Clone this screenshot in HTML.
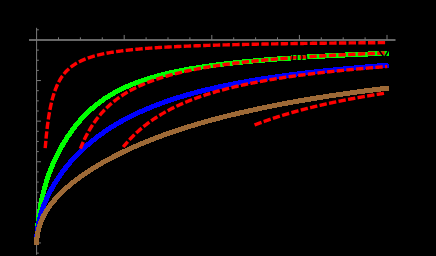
<!DOCTYPE html>
<html><head><meta charset="utf-8"><title>plot</title>
<style>
html,body{margin:0;padding:0;background:#000;width:436px;height:256px;overflow:hidden;font-family:"Liberation Sans",sans-serif;}
</style></head><body>
<svg width="436" height="256" viewBox="0 0 436 256" style="position:absolute;left:0;top:0">
<rect width="436" height="256" fill="#000"/>
<g stroke="#7a7a7a" stroke-width="1" fill="none">
<path d="M29 40 H395.5" stroke="#8a8a8a" stroke-width="1.6"/>
<path d="M36.60 27.8 V254.8"/>
<path d="M58.50 39.95 v-2.6 M80.40 39.95 v-2.6 M102.30 39.95 v-2.6 M124.20 39.95 v-5.0 M146.10 39.95 v-2.6 M168.00 39.95 v-2.6 M189.90 39.95 v-2.6 M211.80 39.95 v-5.0 M233.70 39.95 v-2.6 M255.60 39.95 v-2.6 M277.50 39.95 v-2.6 M299.40 39.95 v-5.0 M321.30 39.95 v-2.6 M343.20 39.95 v-2.6 M365.10 39.95 v-2.6 M387.00 39.95 v-5.0 M36.60 29.80 h2.2 M36.60 50.10 h2.2 M36.60 60.25 h2.2 M36.60 70.40 h2.2 M36.60 80.55 h4.3 M36.60 90.70 h2.2 M36.60 100.85 h2.2 M36.60 111.00 h2.2 M36.60 121.15 h4.3 M36.60 131.30 h2.2 M36.60 141.45 h2.2 M36.60 151.60 h2.2 M36.60 161.75 h4.3 M36.60 171.90 h2.2 M36.60 182.05 h2.2 M36.60 192.20 h2.2 M36.60 202.35 h4.3 M36.60 212.50 h2.2 M36.60 222.65 h2.2 M36.60 232.80 h2.2 M36.60 242.95 h4.3 M36.60 253.10 h2.2"/>
</g>
<g fill="none" stroke-linejoin="round" shape-rendering="crispEdges">
<path d="M36.60 243.79 L36.60 243.30 L36.61 242.81 L36.61 242.29 L36.62 241.77 L36.64 241.23 L36.65 240.67 L36.67 240.10 L36.69 239.52 L36.71 238.93 L36.74 238.33 L36.77 237.71 L36.80 237.08 L36.84 236.44 L36.88 235.79 L36.92 235.13 L36.96 234.46 L37.01 233.79 L37.06 233.10 L37.11 232.40 L37.17 231.69 L37.22 230.98 L37.28 230.26 L37.35 229.53 L37.41 228.79 L37.48 228.05 L37.56 227.30 L37.63 226.55 L37.71 225.78 L37.79 225.02 L37.87 224.25 L37.96 223.47 L38.05 222.69 L38.14 221.90 L38.23 221.11 L38.33 220.32 L38.43 219.52 L38.54 218.73 L38.64 217.92 L38.75 217.12 L38.86 216.31 L38.98 215.50 L39.09 214.69 L39.21 213.88 L39.34 213.06 L39.46 212.25 L39.59 211.43 L39.72 210.61 L39.86 209.80 L39.99 208.98 L40.13 208.16 L40.28 207.34 L40.42 206.53 L40.57 205.71 L40.72 204.89 L40.88 204.07 L41.03 203.26 L41.19 202.44 L41.36 201.63 L41.52 200.82 L41.69 200.00 L41.86 199.19 L42.03 198.39 L42.21 197.58 L42.39 196.77 L42.57 195.97 L42.76 195.17 L42.95 194.37 L43.14 193.57 L43.33 192.78 L43.53 191.98 L43.73 191.19 L43.93 190.40 L44.13 189.62 L44.34 188.83 L44.55 188.05 L44.77 187.27 L44.98 186.49 L45.20 185.72 L45.42 184.94 L45.65 184.17 L45.87 183.41 L46.11 182.64 L46.34 181.88 L46.57 181.12 L46.81 180.36 L47.06 179.61 L47.30 178.86 L47.55 178.11 L47.80 177.36 L48.05 176.61 L48.31 175.87 L48.57 175.13 L48.83 174.39 L49.09 173.66 L49.36 172.93 L49.63 172.20 L49.90 171.47 L50.18 170.74 L50.46 170.02 L50.74 169.30 L51.02 168.58 L51.31 167.86 L51.60 167.15 L51.89 166.43 L52.19 165.72 L52.48 165.02 L52.78 164.31 L53.09 163.61 L53.40 162.90 L53.71 162.20 L54.02 161.50 L54.33 160.81 L54.65 160.11 L54.97 159.42 L55.30 158.73 L55.62 158.04 L55.95 157.35 L56.28 156.67 L56.62 155.99 L56.96 155.30 L57.30 154.62 L57.64 153.94 L57.99 153.27 L58.34 152.59 L58.69 151.92 L59.04 151.25 L59.40 150.58 L59.76 149.91 L60.12 149.24 L60.49 148.58 L60.86 147.91 L61.23 147.25 L61.61 146.59 L61.98 145.93 L62.36 145.28 L62.75 144.62 L63.13 143.97 L63.52 143.32 L63.91 142.67 L64.31 142.02 L64.70 141.37 L65.10 140.73 L65.51 140.09 L65.91 139.45 L66.32 138.81 L66.73 138.17 L67.15 137.54 L67.56 136.90 L67.98 136.27 L68.41 135.64 L68.83 135.02 L69.26 134.39 L69.69 133.77 L70.13 133.15 L70.56 132.53 L71.00 131.91 L71.45 131.30 L71.89 130.69 L72.34 130.08 L72.79 129.47 L73.24 128.87 L73.70 128.26 L74.16 127.67 L74.62 127.07 L75.09 126.47 L75.55 125.88 L76.03 125.29 L76.50 124.70 L76.98 124.12 L77.45 123.54 L77.94 122.96 L78.42 122.38 L78.91 121.81 L79.40 121.24 L79.89 120.67 L80.39 120.11 L80.89 119.55 L81.39 118.99 L81.89 118.43 L82.40 117.88 L82.91 117.33 L83.43 116.79 L83.94 116.24 L84.46 115.70 L84.98 115.17 L85.51 114.63 L86.03 114.10 L86.56 113.58 L87.10 113.05 L87.63 112.53 L88.17 112.01 L88.71 111.50 L89.26 110.99 L89.80 110.48 L90.35 109.98 L90.91 109.48 L91.46 108.98 L92.02 108.49 L92.58 108.00 L93.15 107.51 L93.71 107.02 L94.28 106.54 L94.86 106.07 L95.43 105.59 L96.01 105.13 L96.59 104.66 L97.17 104.20 L97.76 103.74 L98.35 103.28 L98.94 102.83 L99.54 102.38 L100.14 101.93 L100.74 101.49 L101.34 101.05 L101.95 100.62 L102.56 100.18 L103.17 99.76 L103.78 99.33 L104.40 98.91 L105.02 98.49 L105.64 98.07 L106.27 97.66 L106.90 97.25 L107.53 96.85 L108.17 96.45 L108.80 96.05 L109.44 95.65 L110.09 95.26 L110.73 94.87 L111.38 94.49 L112.03 94.11 L112.69 93.73 L113.35 93.35 L114.01 92.98 L114.67 92.61 L115.33 92.24 L116.00 91.88 L116.67 91.52 L117.35 91.16 L118.03 90.81 L118.71 90.46 L119.39 90.11 L120.07 89.77 L120.76 89.42 L121.45 89.09 L122.15 88.75 L122.85 88.42 L123.55 88.09 L124.25 87.76 L124.95 87.43 L125.66 87.11 L126.37 86.79 L127.09 86.48 L127.80 86.17 L128.52 85.86 L129.24 85.55 L129.97 85.24 L130.70 84.94 L131.43 84.64 L132.16 84.34 L132.90 84.05 L133.64 83.76 L134.38 83.47 L135.13 83.18 L135.87 82.90 L136.62 82.62 L137.38 82.34 L138.13 82.06 L138.89 81.79 L139.66 81.52 L140.42 81.25 L141.19 80.98 L141.96 80.71 L142.73 80.45 L143.51 80.19 L144.29 79.93 L145.07 79.68 L145.85 79.43 L146.64 79.18 L147.43 78.93 L148.22 78.68 L149.02 78.44 L149.82 78.19 L150.62 77.95 L151.42 77.72 L152.23 77.48 L153.04 77.25 L153.85 77.01 L154.67 76.78 L155.49 76.56 L156.31 76.33 L157.13 76.11 L157.96 75.88 L158.79 75.66 L159.62 75.45 L160.46 75.23 L161.30 75.02 L162.14 74.80 L162.98 74.59 L163.83 74.38 L164.68 74.18 L165.53 73.97 L166.39 73.77 L167.24 73.56 L168.10 73.36 L168.97 73.17 L169.83 72.97 L170.70 72.77 L171.58 72.58 L172.45 72.39 L173.33 72.20 L174.21 72.01 L175.09 71.82 L175.98 71.64 L176.87 71.45 L177.76 71.27 L178.66 71.09 L179.55 70.91 L180.45 70.73 L181.36 70.56 L182.26 70.38 L183.17 70.21 L184.08 70.04 L185.00 69.87 L185.92 69.70 L186.84 69.53 L187.76 69.36 L188.69 69.20 L189.61 69.03 L190.55 68.87 L191.48 68.71 L192.42 68.55 L193.36 68.39 L194.30 68.24 L195.25 68.08 L196.20 67.93 L197.15 67.77 L198.10 67.62 L199.06 67.47 L200.02 67.32 L200.98 67.17 L201.95 67.02 L202.91 66.88 L203.89 66.73 L204.86 66.59 L205.84 66.45 L206.82 66.30 L207.80 66.16 L208.78 66.02 L209.77 65.89 L210.76 65.75 L211.76 65.61 L212.75 65.48 L213.75 65.34 L214.76 65.21 L215.76 65.08 L216.77 64.95 L217.78 64.82 L218.79 64.69 L219.81 64.56 L220.83 64.43 L221.85 64.31 L222.88 64.18 L223.90 64.06 L224.93 63.93 L225.97 63.81 L227.00 63.69 L228.04 63.57 L229.08 63.45 L230.13 63.33 L231.18 63.21 L232.23 63.10 L233.28 62.98 L234.34 62.87 L235.39 62.75 L236.46 62.64 L237.52 62.53 L238.59 62.41 L239.66 62.30 L240.73 62.19 L241.81 62.08 L242.89 61.98 L243.97 61.87 L245.05 61.76 L246.14 61.65 L247.23 61.55 L248.32 61.44 L249.42 61.34 L250.51 61.24 L251.62 61.13 L252.72 61.03 L253.83 60.93 L254.94 60.83 L256.05 60.73 L257.16 60.63 L258.28 60.54 L259.40 60.44 L260.53 60.34 L261.65 60.25 L262.78 60.15 L263.92 60.06 L265.05 59.96 L266.19 59.87 L267.33 59.78 L268.47 59.68 L269.62 59.59 L270.77 59.50 L271.92 59.41 L273.08 59.32 L274.23 59.23 L275.39 59.14 L276.56 59.06 L277.72 58.97 L278.89 58.88 L280.07 58.80 L281.24 58.71 L282.42 58.63 L283.60 58.54 L284.78 58.46 L285.97 58.37 L287.16 58.29 L288.35 58.21 L289.54 58.13 L290.74 58.05 L291.94 57.97 L293.14 57.89 L294.35 57.81 L295.56 57.73 L296.77 57.65 L297.98 57.57 L299.20 57.50 L300.42 57.42 L301.64 57.34 L302.87 57.27 L304.10 57.19 L305.33 57.12 L306.56 57.04 L307.80 56.97 L309.04 56.90 L310.28 56.82 L311.53 56.75 L312.78 56.68 L314.03 56.61 L315.28 56.54 L316.54 56.47 L317.80 56.40 L319.06 56.33 L320.32 56.26 L321.59 56.19 L322.86 56.12 L324.14 56.05 L325.41 55.98 L326.69 55.92 L327.98 55.85 L329.26 55.78 L330.55 55.72 L331.84 55.65 L333.13 55.59 L334.43 55.52 L335.73 55.46 L337.03 55.40 L338.33 55.33 L339.64 55.27 L340.95 55.21 L342.27 55.14 L343.58 55.08 L344.90 55.02 L346.22 54.96 L347.55 54.90 L348.88 54.84 L350.21 54.78 L351.54 54.72 L352.87 54.66 L354.21 54.60 L355.55 54.54 L356.90 54.48 L358.25 54.43 L359.60 54.37 L360.95 54.31 L362.30 54.26 L363.66 54.20 L365.02 54.14 L366.39 54.09 L367.76 54.03 L369.13 53.98 L370.50 53.92 L371.87 53.87 L373.25 53.81 L374.63 53.76 L376.02 53.70 L377.40 53.65 L378.79 53.60 L380.19 53.55 L381.58 53.49 L382.98 53.44 L384.38 53.39 L385.78 53.34 L387.19 53.29 L388.60 53.24" stroke="#00ff00" stroke-width="5"/>
<path d="M36.60 244.01 L36.60 243.43 L36.61 242.84 L36.61 242.26 L36.62 241.68 L36.64 241.10 L36.65 240.53 L36.67 239.96 L36.69 239.39 L36.71 238.82 L36.74 238.25 L36.77 237.69 L36.80 237.12 L36.84 236.56 L36.88 236.01 L36.92 235.45 L36.96 234.89 L37.01 234.34 L37.06 233.79 L37.11 233.24 L37.17 232.69 L37.22 232.14 L37.28 231.59 L37.35 231.05 L37.41 230.50 L37.48 229.96 L37.56 229.42 L37.63 228.88 L37.71 228.34 L37.79 227.80 L37.87 227.26 L37.96 226.73 L38.05 226.19 L38.14 225.66 L38.23 225.12 L38.33 224.59 L38.43 224.06 L38.54 223.52 L38.64 222.99 L38.75 222.46 L38.86 221.93 L38.98 221.40 L39.09 220.87 L39.21 220.34 L39.34 219.81 L39.46 219.28 L39.59 218.76 L39.72 218.23 L39.86 217.70 L39.99 217.18 L40.13 216.65 L40.28 216.12 L40.42 215.60 L40.57 215.07 L40.72 214.54 L40.88 214.02 L41.03 213.49 L41.19 212.97 L41.36 212.44 L41.52 211.92 L41.69 211.39 L41.86 210.87 L42.03 210.34 L42.21 209.82 L42.39 209.30 L42.57 208.77 L42.76 208.25 L42.95 207.72 L43.14 207.20 L43.33 206.67 L43.53 206.15 L43.73 205.62 L43.93 205.10 L44.13 204.58 L44.34 204.05 L44.55 203.53 L44.77 203.00 L44.98 202.48 L45.20 201.95 L45.42 201.43 L45.65 200.90 L45.87 200.38 L46.11 199.85 L46.34 199.33 L46.57 198.80 L46.81 198.28 L47.06 197.75 L47.30 197.23 L47.55 196.70 L47.80 196.18 L48.05 195.65 L48.31 195.13 L48.57 194.60 L48.83 194.07 L49.09 193.55 L49.36 193.02 L49.63 192.50 L49.90 191.97 L50.18 191.45 L50.46 190.92 L50.74 190.40 L51.02 189.87 L51.31 189.35 L51.60 188.82 L51.89 188.30 L52.19 187.77 L52.48 187.25 L52.78 186.72 L53.09 186.20 L53.40 185.67 L53.71 185.15 L54.02 184.62 L54.33 184.10 L54.65 183.58 L54.97 183.05 L55.30 182.53 L55.62 182.00 L55.95 181.48 L56.28 180.96 L56.62 180.44 L56.96 179.91 L57.30 179.39 L57.64 178.87 L57.99 178.35 L58.34 177.83 L58.69 177.30 L59.04 176.78 L59.40 176.26 L59.76 175.74 L60.12 175.22 L60.49 174.70 L60.86 174.19 L61.23 173.67 L61.61 173.15 L61.98 172.63 L62.36 172.11 L62.75 171.60 L63.13 171.08 L63.52 170.57 L63.91 170.05 L64.31 169.54 L64.70 169.02 L65.10 168.51 L65.51 168.00 L65.91 167.49 L66.32 166.97 L66.73 166.46 L67.15 165.95 L67.56 165.44 L67.98 164.93 L68.41 164.43 L68.83 163.92 L69.26 163.41 L69.69 162.91 L70.13 162.40 L70.56 161.90 L71.00 161.39 L71.45 160.89 L71.89 160.39 L72.34 159.89 L72.79 159.39 L73.24 158.89 L73.70 158.39 L74.16 157.89 L74.62 157.40 L75.09 156.90 L75.55 156.41 L76.03 155.91 L76.50 155.42 L76.98 154.93 L77.45 154.44 L77.94 153.95 L78.42 153.46 L78.91 152.97 L79.40 152.48 L79.89 152.00 L80.39 151.51 L80.89 151.03 L81.39 150.55 L81.89 150.07 L82.40 149.59 L82.91 149.11 L83.43 148.63 L83.94 148.15 L84.46 147.68 L84.98 147.20 L85.51 146.73 L86.03 146.26 L86.56 145.79 L87.10 145.32 L87.63 144.85 L88.17 144.38 L88.71 143.92 L89.26 143.45 L89.80 142.99 L90.35 142.53 L90.91 142.07 L91.46 141.61 L92.02 141.15 L92.58 140.69 L93.15 140.24 L93.71 139.78 L94.28 139.33 L94.86 138.88 L95.43 138.43 L96.01 137.98 L96.59 137.54 L97.17 137.09 L97.76 136.65 L98.35 136.20 L98.94 135.76 L99.54 135.32 L100.14 134.88 L100.74 134.45 L101.34 134.01 L101.95 133.58 L102.56 133.14 L103.17 132.71 L103.78 132.28 L104.40 131.86 L105.02 131.43 L105.64 131.00 L106.27 130.58 L106.90 130.16 L107.53 129.74 L108.17 129.32 L108.80 128.90 L109.44 128.49 L110.09 128.07 L110.73 127.66 L111.38 127.25 L112.03 126.84 L112.69 126.43 L113.35 126.02 L114.01 125.62 L114.67 125.21 L115.33 124.81 L116.00 124.41 L116.67 124.01 L117.35 123.61 L118.03 123.22 L118.71 122.82 L119.39 122.43 L120.07 122.04 L120.76 121.65 L121.45 121.26 L122.15 120.88 L122.85 120.49 L123.55 120.11 L124.25 119.73 L124.95 119.35 L125.66 118.97 L126.37 118.59 L127.09 118.22 L127.80 117.84 L128.52 117.47 L129.24 117.10 L129.97 116.73 L130.70 116.36 L131.43 116.00 L132.16 115.63 L132.90 115.27 L133.64 114.91 L134.38 114.55 L135.13 114.19 L135.87 113.84 L136.62 113.48 L137.38 113.13 L138.13 112.78 L138.89 112.43 L139.66 112.08 L140.42 111.73 L141.19 111.39 L141.96 111.04 L142.73 110.70 L143.51 110.36 L144.29 110.02 L145.07 109.68 L145.85 109.35 L146.64 109.01 L147.43 108.68 L148.22 108.35 L149.02 108.02 L149.82 107.69 L150.62 107.37 L151.42 107.04 L152.23 106.72 L153.04 106.40 L153.85 106.08 L154.67 105.76 L155.49 105.44 L156.31 105.12 L157.13 104.81 L157.96 104.50 L158.79 104.19 L159.62 103.88 L160.46 103.57 L161.30 103.26 L162.14 102.96 L162.98 102.65 L163.83 102.35 L164.68 102.05 L165.53 101.75 L166.39 101.45 L167.24 101.16 L168.10 100.86 L168.97 100.57 L169.83 100.28 L170.70 99.99 L171.58 99.70 L172.45 99.41 L173.33 99.12 L174.21 98.84 L175.09 98.56 L175.98 98.27 L176.87 97.99 L177.76 97.72 L178.66 97.44 L179.55 97.16 L180.45 96.89 L181.36 96.61 L182.26 96.34 L183.17 96.07 L184.08 95.80 L185.00 95.53 L185.92 95.27 L186.84 95.00 L187.76 94.74 L188.69 94.48 L189.61 94.22 L190.55 93.96 L191.48 93.70 L192.42 93.44 L193.36 93.19 L194.30 92.93 L195.25 92.68 L196.20 92.43 L197.15 92.18 L198.10 91.93 L199.06 91.68 L200.02 91.43 L200.98 91.19 L201.95 90.94 L202.91 90.70 L203.89 90.46 L204.86 90.22 L205.84 89.98 L206.82 89.74 L207.80 89.51 L208.78 89.27 L209.77 89.04 L210.76 88.81 L211.76 88.58 L212.75 88.35 L213.75 88.12 L214.76 87.89 L215.76 87.66 L216.77 87.44 L217.78 87.21 L218.79 86.99 L219.81 86.77 L220.83 86.55 L221.85 86.33 L222.88 86.11 L223.90 85.90 L224.93 85.68 L225.97 85.47 L227.00 85.25 L228.04 85.04 L229.08 84.83 L230.13 84.62 L231.18 84.41 L232.23 84.20 L233.28 84.00 L234.34 83.79 L235.39 83.59 L236.46 83.38 L237.52 83.18 L238.59 82.98 L239.66 82.78 L240.73 82.58 L241.81 82.38 L242.89 82.18 L243.97 81.99 L245.05 81.79 L246.14 81.60 L247.23 81.41 L248.32 81.22 L249.42 81.03 L250.51 80.84 L251.62 80.65 L252.72 80.46 L253.83 80.27 L254.94 80.09 L256.05 79.90 L257.16 79.72 L258.28 79.54 L259.40 79.36 L260.53 79.18 L261.65 79.00 L262.78 78.82 L263.92 78.64 L265.05 78.46 L266.19 78.29 L267.33 78.11 L268.47 77.94 L269.62 77.77 L270.77 77.59 L271.92 77.42 L273.08 77.25 L274.23 77.08 L275.39 76.92 L276.56 76.75 L277.72 76.58 L278.89 76.42 L280.07 76.25 L281.24 76.09 L282.42 75.93 L283.60 75.76 L284.78 75.60 L285.97 75.44 L287.16 75.28 L288.35 75.13 L289.54 74.97 L290.74 74.81 L291.94 74.65 L293.14 74.50 L294.35 74.35 L295.56 74.19 L296.77 74.04 L297.98 73.89 L299.20 73.74 L300.42 73.59 L301.64 73.44 L302.87 73.29 L304.10 73.14 L305.33 72.99 L306.56 72.85 L307.80 72.70 L309.04 72.56 L310.28 72.42 L311.53 72.27 L312.78 72.13 L314.03 71.99 L315.28 71.85 L316.54 71.71 L317.80 71.57 L319.06 71.43 L320.32 71.29 L321.59 71.16 L322.86 71.02 L324.14 70.88 L325.41 70.75 L326.69 70.62 L327.98 70.48 L329.26 70.35 L330.55 70.22 L331.84 70.09 L333.13 69.96 L334.43 69.83 L335.73 69.70 L337.03 69.57 L338.33 69.44 L339.64 69.31 L340.95 69.19 L342.27 69.06 L343.58 68.94 L344.90 68.81 L346.22 68.69 L347.55 68.57 L348.88 68.44 L350.21 68.32 L351.54 68.20 L352.87 68.08 L354.21 67.96 L355.55 67.84 L356.90 67.72 L358.25 67.61 L359.60 67.49 L360.95 67.37 L362.30 67.26 L363.66 67.14 L365.02 67.03 L366.39 66.91 L367.76 66.80 L369.13 66.69 L370.50 66.57 L371.87 66.46 L373.25 66.35 L374.63 66.24 L376.02 66.13 L377.40 66.02 L378.79 65.91 L380.19 65.80 L381.58 65.70 L382.98 65.59 L384.38 65.48 L385.78 65.38 L387.19 65.27 L388.60 65.17" stroke="#0000ff" stroke-width="5"/>
<path d="M36.60 244.94 L36.60 244.48 L36.61 244.02 L36.61 243.57 L36.62 243.11 L36.64 242.66 L36.65 242.21 L36.67 241.77 L36.69 241.32 L36.71 240.88 L36.74 240.43 L36.77 239.99 L36.80 239.55 L36.84 239.12 L36.88 238.68 L36.92 238.24 L36.96 237.81 L37.01 237.38 L37.06 236.95 L37.11 236.52 L37.17 236.09 L37.22 235.67 L37.28 235.24 L37.35 234.82 L37.42 234.39 L37.48 233.97 L37.56 233.55 L37.63 233.13 L37.71 232.72 L37.79 232.30 L37.87 231.88 L37.96 231.47 L38.05 231.06 L38.14 230.64 L38.24 230.23 L38.33 229.82 L38.43 229.41 L38.54 229.01 L38.64 228.60 L38.75 228.19 L38.86 227.79 L38.98 227.38 L39.10 226.98 L39.22 226.58 L39.34 226.18 L39.47 225.78 L39.59 225.38 L39.73 224.98 L39.86 224.58 L40.00 224.18 L40.14 223.79 L40.28 223.39 L40.43 222.99 L40.58 222.60 L40.73 222.21 L40.88 221.81 L41.04 221.42 L41.20 221.03 L41.36 220.64 L41.53 220.25 L41.69 219.86 L41.87 219.47 L42.04 219.08 L42.22 218.69 L42.40 218.30 L42.58 217.92 L42.76 217.53 L42.95 217.15 L43.14 216.76 L43.34 216.38 L43.53 215.99 L43.73 215.61 L43.94 215.22 L44.14 214.84 L44.35 214.46 L44.56 214.08 L44.77 213.70 L44.99 213.31 L45.21 212.93 L45.43 212.55 L45.66 212.17 L45.89 211.79 L46.12 211.42 L46.35 211.04 L46.59 210.66 L46.83 210.28 L47.07 209.90 L47.31 209.53 L47.56 209.15 L47.81 208.77 L48.06 208.40 L48.32 208.02 L48.58 207.65 L48.84 207.27 L49.11 206.90 L49.37 206.52 L49.64 206.15 L49.92 205.77 L50.19 205.40 L50.47 205.03 L50.75 204.65 L51.04 204.28 L51.32 203.91 L51.61 203.53 L51.91 203.16 L52.20 202.79 L52.50 202.42 L52.80 202.05 L53.11 201.68 L53.41 201.30 L53.72 200.93 L54.04 200.56 L54.35 200.19 L54.67 199.82 L54.99 199.45 L55.32 199.08 L55.64 198.71 L55.97 198.34 L56.31 197.97 L56.64 197.60 L56.98 197.24 L57.32 196.87 L57.66 196.50 L58.01 196.13 L58.36 195.76 L58.71 195.39 L59.07 195.03 L59.43 194.66 L59.79 194.29 L60.15 193.92 L60.52 193.56 L60.89 193.19 L61.26 192.82 L61.63 192.46 L62.01 192.09 L62.39 191.72 L62.78 191.36 L63.16 190.99 L63.55 190.63 L63.94 190.26 L64.34 189.89 L64.74 189.53 L65.14 189.16 L65.54 188.80 L65.95 188.43 L66.36 188.07 L66.77 187.70 L67.18 187.34 L67.60 186.98 L68.02 186.61 L68.44 186.25 L68.87 185.88 L69.30 185.52 L69.73 185.16 L70.16 184.79 L70.60 184.43 L71.04 184.07 L71.48 183.70 L71.93 183.34 L72.38 182.98 L72.83 182.62 L73.28 182.25 L73.74 181.89 L74.20 181.53 L74.66 181.17 L75.13 180.81 L75.60 180.45 L76.07 180.09 L76.54 179.73 L77.02 179.36 L77.50 179.00 L77.98 178.64 L78.47 178.28 L78.96 177.92 L79.45 177.56 L79.94 177.20 L80.44 176.85 L80.94 176.49 L81.44 176.13 L81.95 175.77 L82.45 175.41 L82.97 175.05 L83.48 174.69 L84.00 174.34 L84.51 173.98 L85.04 173.62 L85.56 173.26 L86.09 172.91 L86.62 172.55 L87.15 172.19 L87.69 171.84 L88.23 171.48 L88.77 171.13 L89.32 170.77 L89.86 170.42 L90.42 170.06 L90.97 169.71 L91.52 169.35 L92.08 169.00 L92.65 168.64 L93.21 168.29 L93.78 167.94 L94.35 167.58 L94.92 167.23 L95.50 166.88 L96.08 166.53 L96.66 166.18 L97.24 165.82 L97.83 165.47 L98.42 165.12 L99.01 164.77 L99.61 164.42 L100.21 164.07 L100.81 163.72 L101.41 163.37 L102.02 163.02 L102.63 162.68 L103.24 162.33 L103.86 161.98 L104.48 161.63 L105.10 161.28 L105.72 160.94 L106.35 160.59 L106.98 160.24 L107.61 159.90 L108.25 159.55 L108.89 159.21 L109.53 158.86 L110.17 158.52 L110.82 158.18 L111.47 157.83 L112.12 157.49 L112.77 157.15 L113.43 156.80 L114.09 156.46 L114.76 156.12 L115.42 155.78 L116.09 155.44 L116.77 155.10 L117.44 154.76 L118.12 154.42 L118.80 154.08 L119.48 153.74 L120.17 153.41 L120.86 153.07 L121.55 152.73 L122.25 152.39 L122.94 152.06 L123.64 151.72 L124.35 151.39 L125.05 151.05 L125.76 150.72 L126.47 150.38 L127.19 150.05 L127.91 149.72 L128.63 149.39 L129.35 149.05 L130.08 148.72 L130.81 148.39 L131.54 148.06 L132.27 147.73 L133.01 147.40 L133.75 147.07 L134.49 146.74 L135.24 146.42 L135.99 146.09 L136.74 145.76 L137.49 145.44 L138.25 145.11 L139.01 144.79 L139.77 144.46 L140.54 144.14 L141.31 143.81 L142.08 143.49 L142.85 143.17 L143.63 142.85 L144.41 142.52 L145.19 142.20 L145.98 141.88 L146.76 141.56 L147.56 141.24 L148.35 140.93 L149.15 140.61 L149.95 140.29 L150.75 139.97 L151.55 139.66 L152.36 139.34 L153.17 139.03 L153.99 138.71 L154.80 138.40 L155.62 138.09 L156.45 137.77 L157.27 137.46 L158.10 137.15 L158.93 136.84 L159.76 136.53 L160.60 136.22 L161.44 135.91 L162.28 135.60 L163.13 135.30 L163.97 134.99 L164.82 134.68 L165.68 134.38 L166.53 134.07 L167.39 133.77 L168.25 133.47 L169.12 133.16 L169.99 132.86 L170.86 132.56 L171.73 132.26 L172.61 131.96 L173.48 131.66 L174.37 131.36 L175.25 131.06 L176.14 130.76 L177.03 130.47 L177.92 130.17 L178.82 129.87 L179.72 129.58 L180.62 129.28 L181.52 128.99 L182.43 128.70 L183.34 128.40 L184.25 128.11 L185.17 127.82 L186.09 127.53 L187.01 127.24 L187.93 126.95 L188.86 126.67 L189.79 126.38 L190.72 126.09 L191.66 125.81 L192.60 125.52 L193.54 125.24 L194.48 124.95 L195.43 124.67 L196.38 124.39 L197.33 124.10 L198.28 123.82 L199.24 123.54 L200.20 123.26 L201.17 122.98 L202.13 122.71 L203.10 122.43 L204.08 122.15 L205.05 121.87 L206.03 121.60 L207.01 121.32 L207.99 121.05 L208.98 120.78 L209.97 120.50 L210.96 120.23 L211.96 119.96 L212.95 119.69 L213.95 119.42 L214.96 119.15 L215.96 118.88 L216.97 118.62 L217.98 118.35 L219.00 118.08 L220.02 117.82 L221.04 117.55 L222.06 117.29 L223.09 117.03 L224.12 116.77 L225.15 116.50 L226.18 116.24 L227.22 115.98 L228.26 115.72 L229.30 115.47 L230.35 115.21 L231.40 114.95 L232.45 114.69 L233.50 114.44 L234.56 114.18 L235.62 113.93 L236.68 113.68 L237.75 113.42 L238.82 113.17 L239.89 112.92 L240.96 112.67 L242.04 112.42 L243.12 112.17 L244.20 111.92 L245.29 111.67 L246.38 111.43 L247.47 111.18 L248.56 110.94 L249.66 110.69 L250.76 110.45 L251.86 110.20 L252.97 109.96 L254.07 109.72 L255.18 109.48 L256.30 109.24 L257.42 109.00 L258.53 108.76 L259.66 108.52 L260.78 108.29 L261.91 108.05 L263.04 107.81 L264.17 107.58 L265.31 107.34 L266.45 107.11 L267.59 106.88 L268.74 106.65 L269.89 106.41 L271.04 106.18 L272.19 105.95 L273.35 105.73 L274.50 105.50 L275.67 105.27 L276.83 105.04 L278.00 104.82 L279.17 104.59 L280.34 104.37 L281.52 104.14 L282.70 103.92 L283.88 103.70 L285.06 103.47 L286.25 103.25 L287.44 103.03 L288.63 102.81 L289.83 102.59 L291.03 102.38 L292.23 102.16 L293.43 101.94 L294.64 101.72 L295.85 101.51 L297.07 101.29 L298.28 101.08 L299.50 100.87 L300.72 100.65 L301.94 100.44 L303.17 100.23 L304.40 100.02 L305.63 99.81 L306.87 99.60 L308.11 99.39 L309.35 99.19 L310.59 98.98 L311.84 98.77 L313.09 98.57 L314.34 98.36 L315.60 98.16 L316.86 97.96 L318.12 97.75 L319.38 97.55 L320.65 97.35 L321.92 97.15 L323.19 96.95 L324.46 96.75 L325.74 96.55 L327.02 96.35 L328.31 96.16 L329.59 95.96 L330.88 95.76 L332.17 95.57 L333.47 95.37 L334.77 95.18 L336.07 94.99 L337.37 94.80 L338.68 94.60 L339.99 94.41 L341.30 94.22 L342.61 94.03 L343.93 93.84 L345.25 93.66 L346.57 93.47 L347.90 93.28 L349.23 93.09 L350.56 92.91 L351.90 92.72 L353.23 92.54 L354.57 92.36 L355.92 92.17 L357.26 91.99 L358.61 91.81 L359.96 91.63 L361.32 91.45 L362.67 91.27 L364.03 91.09 L365.40 90.91 L366.76 90.73 L368.13 90.55 L369.50 90.38 L370.88 90.20 L372.25 90.03 L373.63 89.85 L375.02 89.68 L376.40 89.50 L377.79 89.33 L379.18 89.16 L380.58 88.99 L381.97 88.82 L383.37 88.65 L384.78 88.48 L386.18 88.31 L387.59 88.14 L389.00 87.97" stroke="#9d6936" stroke-width="5"/>
</g>
<g fill="none" stroke-linejoin="round">
<path d="M385.10 42.62 L383.96 42.63 L382.83 42.64 L381.69 42.64 L380.55 42.65 L379.42 42.66 L378.28 42.67 L377.14 42.68 L376.01 42.69 L374.87 42.70 L373.73 42.71 L372.60 42.72 L371.46 42.73 L370.32 42.74 L369.18 42.75 L368.05 42.76 L366.91 42.77 L365.77 42.78 L364.64 42.79 L363.50 42.79 L362.36 42.80 L361.23 42.81 L360.09 42.82 L358.95 42.84 L357.82 42.85 L356.68 42.86 L355.54 42.87 L354.41 42.88 L353.27 42.89 L352.13 42.90 L351.00 42.91 L349.86 42.92 L348.72 42.93 L347.59 42.94 L346.45 42.95 L345.31 42.96 L344.18 42.97 L343.04 42.98 L341.90 43.00 L340.77 43.01 L339.63 43.02 L338.49 43.03 L337.35 43.04 L336.22 43.05 L335.08 43.07 L333.94 43.08 L332.81 43.09 L331.67 43.10 L330.53 43.11 L329.40 43.13 L328.26 43.14 L327.12 43.15 L325.99 43.16 L324.85 43.18 L323.71 43.19 L322.58 43.20 L321.44 43.21 L320.30 43.23 L319.17 43.24 L318.03 43.25 L316.89 43.27 L315.76 43.28 L314.62 43.30 L313.48 43.31 L312.35 43.32 L311.21 43.34 L310.07 43.35 L308.94 43.36 L307.80 43.38 L306.66 43.39 L305.52 43.41 L304.39 43.42 L303.25 43.44 L302.11 43.45 L300.98 43.47 L299.84 43.48 L298.70 43.50 L297.57 43.51 L296.43 43.53 L295.29 43.54 L294.16 43.56 L293.02 43.58 L291.88 43.59 L290.75 43.61 L289.61 43.63 L288.47 43.64 L287.34 43.66 L286.20 43.68 L285.06 43.69 L283.93 43.71 L282.79 43.73 L281.65 43.75 L280.52 43.76 L279.38 43.78 L278.24 43.80 L277.11 43.82 L275.97 43.84 L274.83 43.85 L273.69 43.87 L272.56 43.89 L271.42 43.91 L270.28 43.93 L269.15 43.95 L268.01 43.97 L266.87 43.99 L265.74 44.01 L264.60 44.03 L263.46 44.05 L262.33 44.07 L261.19 44.09 L260.05 44.11 L258.92 44.13 L257.78 44.15 L256.64 44.18 L255.51 44.20 L254.37 44.22 L253.23 44.24 L252.10 44.27 L250.96 44.29 L249.82 44.31 L248.69 44.34 L247.55 44.36 L246.41 44.38 L245.27 44.41 L244.14 44.43 L243.00 44.46 L241.86 44.48 L240.73 44.51 L239.59 44.53 L238.45 44.56 L237.32 44.58 L236.18 44.61 L235.04 44.64 L233.91 44.66 L232.77 44.69 L231.63 44.72 L230.50 44.75 L229.36 44.77 L228.22 44.80 L227.09 44.83 L225.95 44.86 L224.81 44.89 L223.68 44.92 L222.54 44.95 L221.40 44.98 L220.27 45.01 L219.13 45.05 L217.99 45.08 L216.86 45.11 L215.72 45.14 L214.58 45.18 L213.44 45.21 L212.31 45.24 L211.17 45.28 L210.03 45.31 L208.90 45.35 L207.76 45.38 L206.62 45.42 L205.49 45.46 L204.35 45.49 L203.21 45.53 L202.08 45.57 L200.94 45.61 L199.80 45.65 L198.67 45.69 L197.53 45.73 L196.39 45.77 L195.26 45.81 L194.12 45.85 L192.98 45.90 L191.85 45.94 L190.71 45.98 L189.57 46.03 L188.44 46.08 L187.30 46.12 L186.16 46.17 L185.03 46.22 L183.89 46.26 L182.75 46.31 L181.61 46.36 L180.48 46.41 L179.34 46.47 L178.20 46.52 L177.07 46.57 L175.93 46.62 L174.79 46.68 L173.66 46.74 L172.52 46.79 L171.38 46.85 L170.25 46.91 L169.11 46.97 L167.97 47.03 L166.84 47.09 L165.70 47.15 L164.56 47.22 L163.43 47.28 L162.29 47.35 L161.15 47.42 L160.02 47.49 L158.88 47.56 L157.74 47.63 L156.61 47.70 L155.47 47.77 L154.33 47.85 L153.19 47.93 L152.06 48.00 L150.92 48.08 L149.78 48.17 L148.65 48.25 L147.51 48.34 L146.37 48.42 L145.24 48.51 L144.10 48.60 L142.96 48.69 L141.83 48.79 L140.69 48.88 L139.55 48.98 L138.42 49.08 L137.28 49.19 L136.14 49.29 L135.01 49.40 L133.87 49.51 L132.73 49.62 L131.60 49.74 L130.46 49.86 L129.32 49.98 L128.19 50.10 L127.05 50.23 L125.91 50.36 L124.78 50.50 L123.64 50.63 L122.50 50.78 L121.36 50.92 L120.23 51.07 L119.09 51.22 L117.95 51.38 L116.82 51.54 L115.68 51.71 L114.54 51.88 L113.41 52.06 L112.27 52.24 L111.13 52.43 L110.00 52.62 L108.86 52.82 L107.72 53.03 L106.59 53.24 L105.45 53.46 L104.31 53.68 L103.18 53.92 L102.04 54.16 L100.90 54.41 L99.77 54.67 L98.63 54.94 L97.49 55.22 L96.36 55.51 L95.22 55.82 L94.08 56.13 L92.95 56.46 L91.81 56.80 L90.67 57.15 L89.53 57.52 L88.40 57.90 L87.26 58.31 L86.12 58.73 L84.99 59.17 L83.85 59.63 L82.71 60.12 L81.58 60.63 L80.44 61.16 L79.30 61.73 L78.17 62.32 L77.03 62.95 L75.89 63.62 L74.76 64.32 L73.62 65.07 L72.48 65.87 L71.35 66.72 L70.21 67.62 L69.07 68.59 L67.94 69.63 L66.80 70.75 L65.66 71.95 L64.53 73.25 L63.39 74.67 L62.25 76.20 L61.12 77.89 L59.98 79.73 L58.84 81.76 L57.70 84.02 L56.57 86.52 L55.43 89.34 L54.29 92.51 L53.16 96.12 L52.02 100.26 L50.88 105.06 L49.75 110.69 L48.61 117.38 L47.47 125.48 L46.34 135.46 L45.20 148.09" stroke="#ff0000" stroke-width="3.4" stroke-dasharray="7.4 2.3" stroke-dashoffset="0.0"/>
<path d="M384.60 53.00 L383.58 53.04 L382.57 53.08 L381.55 53.12 L380.53 53.16 L379.51 53.20 L378.50 53.24 L377.48 53.28 L376.46 53.32 L375.44 53.36 L374.43 53.40 L373.41 53.44 L372.39 53.48 L371.37 53.52 L370.36 53.57 L369.34 53.61 L368.32 53.65 L367.30 53.69 L366.29 53.74 L365.27 53.78 L364.25 53.82 L363.23 53.87 L362.22 53.91 L361.20 53.96 L360.18 54.00 L359.17 54.04 L358.15 54.09 L357.13 54.14 L356.11 54.18 L355.10 54.23 L354.08 54.27 L353.06 54.32 L352.04 54.37 L351.03 54.41 L350.01 54.46 L348.99 54.51 L347.97 54.56 L346.96 54.61 L345.94 54.66 L344.92 54.71 L343.90 54.76 L342.89 54.81 L341.87 54.86 L340.85 54.91 L339.83 54.96 L338.82 55.01 L337.80 55.06 L336.78 55.11 L335.77 55.16 L334.75 55.22 L333.73 55.27 L332.71 55.32 L331.70 55.38 L330.68 55.43 L329.66 55.49 L328.64 55.54 L327.63 55.60 L326.61 55.65 L325.59 55.71 L324.57 55.77 L323.56 55.82 L322.54 55.88 L321.52 55.94 L320.50 56.00 L319.49 56.06 L318.47 56.12 L317.45 56.18 L316.43 56.24 L315.42 56.30 L314.40 56.36 L313.38 56.42 L312.37 56.48 L311.35 56.54 L310.33 56.61 L309.31 56.67 L308.30 56.74 L307.28 56.80 L306.26 56.87 L305.24 56.93 L304.23 57.00 L303.21 57.06 L302.19 57.13 L301.17 57.20 L300.16 57.27 L299.14 57.34 L298.12 57.40 L297.10 57.47 L296.09 57.55 L295.07 57.62 L294.05 57.69 L293.03 57.76 L292.02 57.83 L291.00 57.91 L289.98 57.98 L288.97 58.06 L287.95 58.13 L286.93 58.21 L285.91 58.28 L284.90 58.36 L283.88 58.44 L282.86 58.52 L281.84 58.60 L280.83 58.68 L279.81 58.76 L278.79 58.84 L277.77 58.92 L276.76 59.00 L275.74 59.09 L274.72 59.17 L273.70 59.26 L272.69 59.34 L271.67 59.43 L270.65 59.52 L269.63 59.61 L268.62 59.70 L267.60 59.79 L266.58 59.88 L265.57 59.97 L264.55 60.06 L263.53 60.15 L262.51 60.25 L261.50 60.34 L260.48 60.44 L259.46 60.54 L258.44 60.64 L257.43 60.73 L256.41 60.83 L255.39 60.94 L254.37 61.04 L253.36 61.14 L252.34 61.24 L251.32 61.35 L250.30 61.46 L249.29 61.56 L248.27 61.67 L247.25 61.78 L246.23 61.89 L245.22 62.00 L244.20 62.11 L243.18 62.23 L242.17 62.34 L241.15 62.46 L240.13 62.58 L239.11 62.70 L238.10 62.82 L237.08 62.94 L236.06 63.06 L235.04 63.18 L234.03 63.31 L233.01 63.44 L231.99 63.56 L230.97 63.69 L229.96 63.82 L228.94 63.96 L227.92 64.09 L226.90 64.22 L225.89 64.36 L224.87 64.50 L223.85 64.64 L222.83 64.78 L221.82 64.92 L220.80 65.07 L219.78 65.21 L218.77 65.36 L217.75 65.51 L216.73 65.66 L215.71 65.82 L214.70 65.97 L213.68 66.13 L212.66 66.29 L211.64 66.45 L210.63 66.61 L209.61 66.78 L208.59 66.94 L207.57 67.11 L206.56 67.28 L205.54 67.45 L204.52 67.63 L203.50 67.81 L202.49 67.98 L201.47 68.17 L200.45 68.35 L199.43 68.54 L198.42 68.73 L197.40 68.92 L196.38 69.11 L195.37 69.31 L194.35 69.50 L193.33 69.71 L192.31 69.91 L191.30 70.12 L190.28 70.32 L189.26 70.54 L188.24 70.75 L187.23 70.97 L186.21 71.19 L185.19 71.41 L184.17 71.64 L183.16 71.87 L182.14 72.10 L181.12 72.34 L180.10 72.58 L179.09 72.82 L178.07 73.07 L177.05 73.32 L176.03 73.57 L175.02 73.83 L174.00 74.09 L172.98 74.36 L171.97 74.63 L170.95 74.90 L169.93 75.18 L168.91 75.46 L167.90 75.74 L166.88 76.03 L165.86 76.33 L164.84 76.63 L163.83 76.93 L162.81 77.24 L161.79 77.55 L160.77 77.87 L159.76 78.20 L158.74 78.53 L157.72 78.86 L156.70 79.20 L155.69 79.55 L154.67 79.90 L153.65 80.26 L152.63 80.62 L151.62 80.99 L150.60 81.37 L149.58 81.75 L148.57 82.14 L147.55 82.53 L146.53 82.94 L145.51 83.35 L144.50 83.77 L143.48 84.20 L142.46 84.63 L141.44 85.07 L140.43 85.53 L139.41 85.99 L138.39 86.45 L137.37 86.93 L136.36 87.42 L135.34 87.92 L134.32 88.43 L133.30 88.95 L132.29 89.48 L131.27 90.02 L130.25 90.57 L129.23 91.13 L128.22 91.71 L127.20 92.30 L126.18 92.90 L125.17 93.52 L124.15 94.15 L123.13 94.79 L122.11 95.45 L121.10 96.13 L120.08 96.82 L119.06 97.53 L118.04 98.25 L117.03 99.00 L116.01 99.76 L114.99 100.54 L113.97 101.35 L112.96 102.17 L111.94 103.02 L110.92 103.89 L109.90 104.78 L108.89 105.70 L107.87 106.64 L106.85 107.61 L105.83 108.61 L104.82 109.64 L103.80 110.70 L102.78 111.79 L101.77 112.92 L100.75 114.08 L99.73 115.28 L98.71 116.52 L97.70 117.80 L96.68 119.12 L95.66 120.49 L94.64 121.90 L93.63 123.37 L92.61 124.89 L91.59 126.46 L90.57 128.10 L89.56 129.79 L88.54 131.56 L87.52 133.39 L86.50 135.30 L85.49 137.29 L84.47 139.36 L83.45 141.52 L82.43 143.77 L81.42 146.13 L80.40 148.60" stroke="#ff0000" stroke-width="3.4" stroke-dasharray="7.4 2.3" stroke-dashoffset="0.0"/>
<path d="M387.20 66.53 L386.32 66.60 L385.43 66.67 L384.55 66.73 L383.67 66.80 L382.79 66.87 L381.90 66.94 L381.02 67.01 L380.14 67.08 L379.25 67.15 L378.37 67.21 L377.49 67.29 L376.60 67.36 L375.72 67.43 L374.84 67.50 L373.96 67.57 L373.07 67.64 L372.19 67.71 L371.31 67.79 L370.42 67.86 L369.54 67.93 L368.66 68.01 L367.78 68.08 L366.89 68.16 L366.01 68.23 L365.13 68.31 L364.24 68.38 L363.36 68.46 L362.48 68.53 L361.59 68.61 L360.71 68.69 L359.83 68.77 L358.95 68.85 L358.06 68.92 L357.18 69.00 L356.30 69.08 L355.41 69.16 L354.53 69.24 L353.65 69.33 L352.77 69.41 L351.88 69.49 L351.00 69.57 L350.12 69.65 L349.23 69.74 L348.35 69.82 L347.47 69.91 L346.58 69.99 L345.70 70.08 L344.82 70.16 L343.94 70.25 L343.05 70.33 L342.17 70.42 L341.29 70.51 L340.40 70.60 L339.52 70.69 L338.64 70.78 L337.76 70.87 L336.87 70.96 L335.99 71.05 L335.11 71.14 L334.22 71.23 L333.34 71.32 L332.46 71.42 L331.57 71.51 L330.69 71.60 L329.81 71.70 L328.93 71.79 L328.04 71.89 L327.16 71.99 L326.28 72.08 L325.39 72.18 L324.51 72.28 L323.63 72.38 L322.75 72.48 L321.86 72.58 L320.98 72.68 L320.10 72.78 L319.21 72.88 L318.33 72.98 L317.45 73.09 L316.56 73.19 L315.68 73.29 L314.80 73.40 L313.92 73.51 L313.03 73.61 L312.15 73.72 L311.27 73.83 L310.38 73.94 L309.50 74.05 L308.62 74.16 L307.74 74.27 L306.85 74.38 L305.97 74.49 L305.09 74.60 L304.20 74.72 L303.32 74.83 L302.44 74.95 L301.55 75.06 L300.67 75.18 L299.79 75.30 L298.91 75.41 L298.02 75.53 L297.14 75.65 L296.26 75.77 L295.37 75.90 L294.49 76.02 L293.61 76.14 L292.73 76.27 L291.84 76.39 L290.96 76.52 L290.08 76.64 L289.19 76.77 L288.31 76.90 L287.43 77.03 L286.54 77.16 L285.66 77.29 L284.78 77.42 L283.90 77.55 L283.01 77.69 L282.13 77.82 L281.25 77.96 L280.36 78.10 L279.48 78.23 L278.60 78.37 L277.72 78.51 L276.83 78.65 L275.95 78.80 L275.07 78.94 L274.18 79.08 L273.30 79.23 L272.42 79.38 L271.53 79.52 L270.65 79.67 L269.77 79.82 L268.89 79.97 L268.00 80.12 L267.12 80.28 L266.24 80.43 L265.35 80.59 L264.47 80.74 L263.59 80.90 L262.71 81.06 L261.82 81.22 L260.94 81.38 L260.06 81.55 L259.17 81.71 L258.29 81.87 L257.41 82.04 L256.52 82.21 L255.64 82.38 L254.76 82.55 L253.88 82.72 L252.99 82.90 L252.11 83.07 L251.23 83.25 L250.34 83.43 L249.46 83.61 L248.58 83.79 L247.69 83.97 L246.81 84.15 L245.93 84.34 L245.05 84.53 L244.16 84.71 L243.28 84.91 L242.40 85.10 L241.51 85.29 L240.63 85.49 L239.75 85.68 L238.87 85.88 L237.98 86.08 L237.10 86.28 L236.22 86.49 L235.33 86.69 L234.45 86.90 L233.57 87.11 L232.68 87.32 L231.80 87.54 L230.92 87.75 L230.04 87.97 L229.15 88.19 L228.27 88.41 L227.39 88.63 L226.50 88.86 L225.62 89.09 L224.74 89.32 L223.86 89.55 L222.97 89.78 L222.09 90.02 L221.21 90.26 L220.32 90.50 L219.44 90.74 L218.56 90.99 L217.67 91.23 L216.79 91.48 L215.91 91.74 L215.03 91.99 L214.14 92.25 L213.26 92.51 L212.38 92.77 L211.49 93.04 L210.61 93.31 L209.73 93.58 L208.85 93.85 L207.96 94.13 L207.08 94.41 L206.20 94.69 L205.31 94.98 L204.43 95.27 L203.55 95.56 L202.66 95.85 L201.78 96.15 L200.90 96.45 L200.02 96.75 L199.13 97.06 L198.25 97.37 L197.37 97.69 L196.48 98.00 L195.60 98.33 L194.72 98.65 L193.84 98.98 L192.95 99.31 L192.07 99.65 L191.19 99.99 L190.30 100.33 L189.42 100.68 L188.54 101.03 L187.65 101.39 L186.77 101.75 L185.89 102.11 L185.01 102.48 L184.12 102.85 L183.24 103.23 L182.36 103.61 L181.47 104.00 L180.59 104.39 L179.71 104.79 L178.83 105.19 L177.94 105.59 L177.06 106.01 L176.18 106.42 L175.29 106.84 L174.41 107.27 L173.53 107.70 L172.64 108.14 L171.76 108.59 L170.88 109.04 L170.00 109.49 L169.11 109.95 L168.23 110.42 L167.35 110.90 L166.46 111.38 L165.58 111.87 L164.70 112.36 L163.82 112.86 L162.93 113.37 L162.05 113.88 L161.17 114.41 L160.28 114.94 L159.40 115.48 L158.52 116.02 L157.63 116.57 L156.75 117.14 L155.87 117.71 L154.99 118.28 L154.10 118.87 L153.22 119.47 L152.34 120.07 L151.45 120.69 L150.57 121.31 L149.69 121.94 L148.81 122.59 L147.92 123.24 L147.04 123.91 L146.16 124.58 L145.27 125.27 L144.39 125.96 L143.51 126.67 L142.62 127.39 L141.74 128.13 L140.86 128.87 L139.98 129.63 L139.09 130.40 L138.21 131.18 L137.33 131.98 L136.44 132.79 L135.56 133.62 L134.68 134.46 L133.80 135.32 L132.91 136.19 L132.03 137.08 L131.15 137.99 L130.26 138.91 L129.38 139.85 L128.50 140.81 L127.61 141.78 L126.73 142.78 L125.85 143.79 L124.97 144.83 L124.08 145.88 L123.20 146.96" stroke="#ff0000" stroke-width="3.4" stroke-dasharray="7.4 2.3" stroke-dashoffset="5.2"/>
<path d="M384.00 93.31 L383.56 93.38 L383.13 93.44 L382.69 93.51 L382.25 93.58 L381.81 93.65 L381.38 93.72 L380.94 93.78 L380.50 93.85 L380.06 93.92 L379.63 93.99 L379.19 94.06 L378.75 94.13 L378.31 94.20 L377.88 94.27 L377.44 94.34 L377.00 94.41 L376.56 94.48 L376.13 94.55 L375.69 94.62 L375.25 94.69 L374.81 94.76 L374.38 94.83 L373.94 94.90 L373.50 94.97 L373.06 95.04 L372.63 95.12 L372.19 95.19 L371.75 95.26 L371.31 95.33 L370.88 95.40 L370.44 95.48 L370.00 95.55 L369.56 95.62 L369.13 95.70 L368.69 95.77 L368.25 95.84 L367.81 95.92 L367.38 95.99 L366.94 96.07 L366.50 96.14 L366.06 96.21 L365.63 96.29 L365.19 96.36 L364.75 96.44 L364.31 96.51 L363.88 96.59 L363.44 96.67 L363.00 96.74 L362.56 96.82 L362.13 96.89 L361.69 96.97 L361.25 97.05 L360.81 97.13 L360.38 97.20 L359.94 97.28 L359.50 97.36 L359.06 97.44 L358.63 97.51 L358.19 97.59 L357.75 97.67 L357.32 97.75 L356.88 97.83 L356.44 97.91 L356.00 97.99 L355.57 98.07 L355.13 98.15 L354.69 98.23 L354.25 98.31 L353.82 98.39 L353.38 98.47 L352.94 98.55 L352.50 98.63 L352.07 98.71 L351.63 98.79 L351.19 98.87 L350.75 98.96 L350.32 99.04 L349.88 99.12 L349.44 99.20 L349.00 99.29 L348.57 99.37 L348.13 99.45 L347.69 99.54 L347.25 99.62 L346.82 99.71 L346.38 99.79 L345.94 99.87 L345.50 99.96 L345.07 100.04 L344.63 100.13 L344.19 100.22 L343.75 100.30 L343.32 100.39 L342.88 100.47 L342.44 100.56 L342.00 100.65 L341.57 100.73 L341.13 100.82 L340.69 100.91 L340.25 101.00 L339.82 101.08 L339.38 101.17 L338.94 101.26 L338.50 101.35 L338.07 101.44 L337.63 101.53 L337.19 101.62 L336.75 101.71 L336.32 101.80 L335.88 101.89 L335.44 101.98 L335.00 102.07 L334.57 102.16 L334.13 102.25 L333.69 102.34 L333.25 102.44 L332.82 102.53 L332.38 102.62 L331.94 102.71 L331.51 102.81 L331.07 102.90 L330.63 102.99 L330.19 103.09 L329.76 103.18 L329.32 103.28 L328.88 103.37 L328.44 103.47 L328.01 103.56 L327.57 103.66 L327.13 103.75 L326.69 103.85 L326.26 103.95 L325.82 104.04 L325.38 104.14 L324.94 104.24 L324.51 104.34 L324.07 104.43 L323.63 104.53 L323.19 104.63 L322.76 104.73 L322.32 104.83 L321.88 104.93 L321.44 105.03 L321.01 105.13 L320.57 105.23 L320.13 105.33 L319.69 105.43 L319.26 105.53 L318.82 105.63 L318.38 105.74 L317.94 105.84 L317.51 105.94 L317.07 106.04 L316.63 106.15 L316.19 106.25 L315.76 106.35 L315.32 106.46 L314.88 106.56 L314.44 106.67 L314.01 106.77 L313.57 106.88 L313.13 106.98 L312.69 107.09 L312.26 107.20 L311.82 107.30 L311.38 107.41 L310.94 107.52 L310.51 107.63 L310.07 107.73 L309.63 107.84 L309.19 107.95 L308.76 108.06 L308.32 108.17 L307.88 108.28 L307.44 108.39 L307.01 108.50 L306.57 108.61 L306.13 108.72 L305.69 108.84 L305.26 108.95 L304.82 109.06 L304.38 109.17 L303.95 109.29 L303.51 109.40 L303.07 109.51 L302.63 109.63 L302.20 109.74 L301.76 109.86 L301.32 109.97 L300.88 110.09 L300.45 110.21 L300.01 110.32 L299.57 110.44 L299.13 110.56 L298.70 110.68 L298.26 110.79 L297.82 110.91 L297.38 111.03 L296.95 111.15 L296.51 111.27 L296.07 111.39 L295.63 111.51 L295.20 111.63 L294.76 111.75 L294.32 111.88 L293.88 112.00 L293.45 112.12 L293.01 112.24 L292.57 112.37 L292.13 112.49 L291.70 112.62 L291.26 112.74 L290.82 112.87 L290.38 112.99 L289.95 113.12 L289.51 113.25 L289.07 113.37 L288.63 113.50 L288.20 113.63 L287.76 113.76 L287.32 113.88 L286.88 114.01 L286.45 114.14 L286.01 114.27 L285.57 114.40 L285.13 114.54 L284.70 114.67 L284.26 114.80 L283.82 114.93 L283.38 115.06 L282.95 115.20 L282.51 115.33 L282.07 115.47 L281.63 115.60 L281.20 115.74 L280.76 115.87 L280.32 116.01 L279.88 116.14 L279.45 116.28 L279.01 116.42 L278.57 116.56 L278.14 116.70 L277.70 116.84 L277.26 116.98 L276.82 117.12 L276.39 117.26 L275.95 117.40 L275.51 117.54 L275.07 117.68 L274.64 117.82 L274.20 117.97 L273.76 118.11 L273.32 118.26 L272.89 118.40 L272.45 118.55 L272.01 118.69 L271.57 118.84 L271.14 118.99 L270.70 119.13 L270.26 119.28 L269.82 119.43 L269.39 119.58 L268.95 119.73 L268.51 119.88 L268.07 120.03 L267.64 120.18 L267.20 120.34 L266.76 120.49 L266.32 120.64 L265.89 120.80 L265.45 120.95 L265.01 121.11 L264.57 121.26 L264.14 121.42 L263.70 121.58 L263.26 121.73 L262.82 121.89 L262.39 122.05 L261.95 122.21 L261.51 122.37 L261.07 122.53 L260.64 122.69 L260.20 122.85 L259.76 123.02 L259.32 123.18 L258.89 123.34 L258.45 123.51 L258.01 123.67 L257.57 123.84 L257.14 124.00 L256.70 124.17 L256.26 124.34 L255.82 124.51 L255.39 124.68 L254.95 124.85 L254.51 125.02 L254.07 125.19 L253.64 125.36 L253.20 125.53" stroke="#ff0000" stroke-width="3.4" stroke-dasharray="7.4 2.3" stroke-dashoffset="0.0"/>
</g>
<g fill="#000" font-family="Liberation Serif, serif" font-style="italic">
<path d="M379.3 50.8 L384.3 57.6 L388.3 50.8" fill="none" stroke="#000" stroke-width="1.5"/>
<text x="290.5" y="62.5" font-size="15" font-style="normal">(0)</text>
</g>
</svg>
</body></html>
